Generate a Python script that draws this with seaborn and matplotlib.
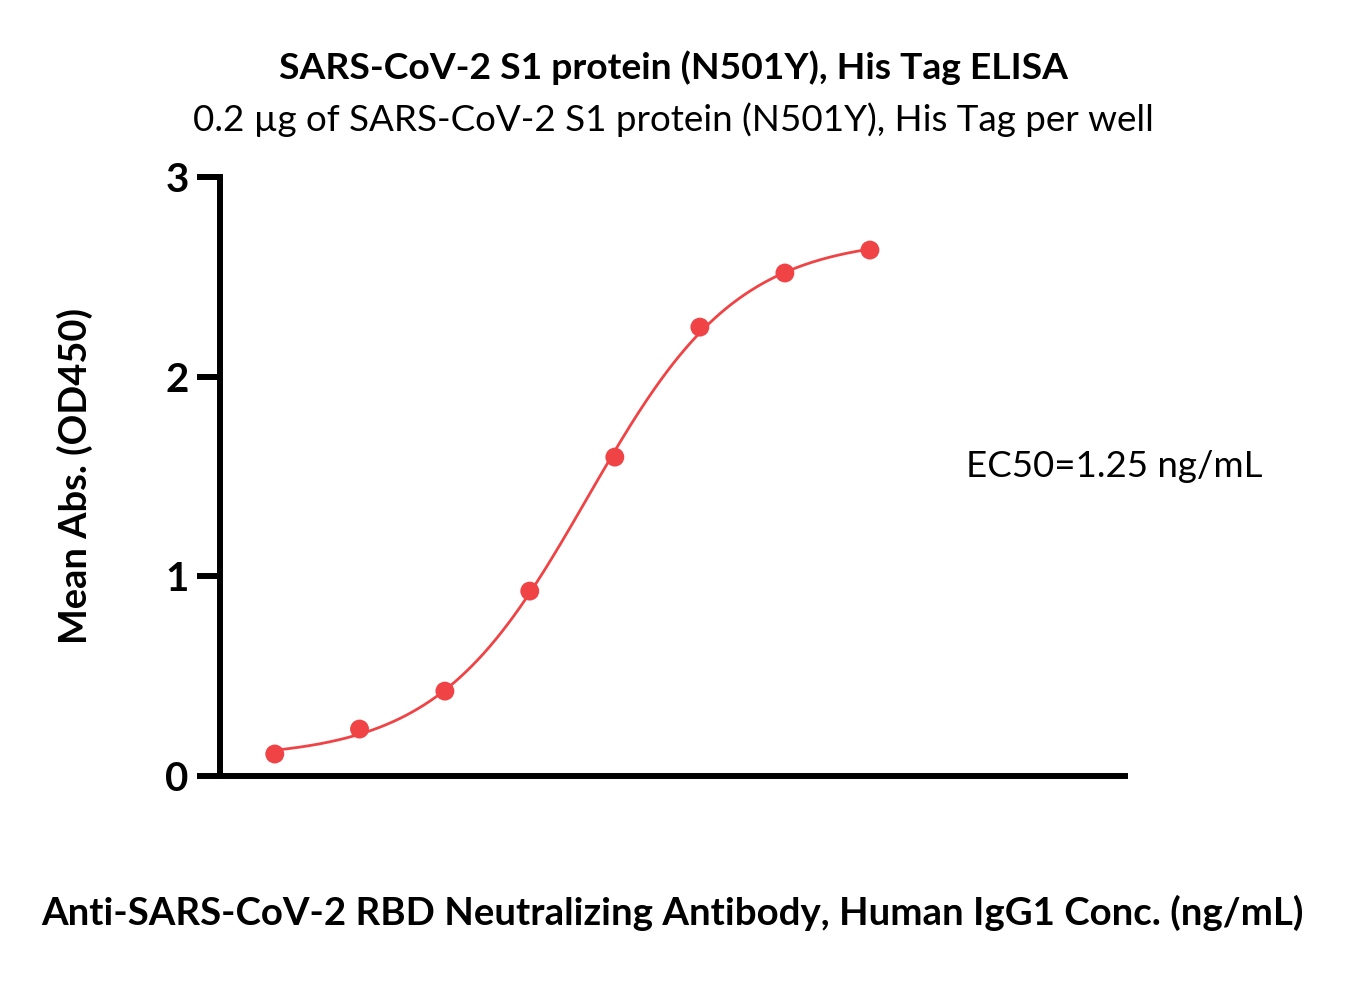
import numpy as np
import pandas as pd
import matplotlib
matplotlib.use("Agg")
import matplotlib.pyplot as plt
import seaborn as sns

# ELISA readings
conc = [0.0977, 0.195, 0.391, 0.781, 1.5625, 3.125, 6.25, 12.5]
od450 = [0.11, 0.235, 0.425, 0.926, 1.597, 2.248, 2.519, 2.634]
ec50 = 1.25
yticks = [0, 1, 2, 3]

title = "SARS-CoV-2 S1 protein (N501Y), His Tag ELISA"
subtitle = "0.2 µg of SARS-CoV-2 S1 protein (N501Y), His Tag per well"
xlabel = "Anti-SARS-CoV-2 RBD Neutralizing Antibody, Human IgG1 Conc. (ng/mL)"
ylabel = "Mean Abs. (OD450)"
ec50_text = "EC50=1.25 ng/mL"

red = "#F04345"

# 4PL fit with EC50 fixed: search the hill slope, bottom/top by least squares
x = np.array(conc)
y = np.array(od450)
best = None
for h in np.linspace(0.5, 3.0, 251):
    f = 1 / (1 + (ec50 / x) ** h)
    A = np.column_stack([1 - f, f])
    coef, res, _, _ = np.linalg.lstsq(A, y, rcond=None)
    err = np.sum((A @ coef - y) ** 2)
    if best is None or err < best[0]:
        best = (err, h, coef)
_, hill, (bottom, top) = best
xs = np.logspace(np.log10(conc[0]), np.log10(conc[-1]), 300)
fit = pd.DataFrame({"conc": xs, "od": bottom + (top - bottom) / (1 + (ec50 / xs) ** hill)})
pts = pd.DataFrame({"conc": conc, "od": od450})

sns.set_style("ticks")
plt.rcParams["font.family"] = ["Lato", "DejaVu Sans"]
plt.rcParams["text.color"] = "black"

fig = plt.figure(figsize=(13.47, 9.81), dpi=100)
ax = fig.add_axes([0.1633, 0.209, 0.8352 - 0.1633, 0.8196 - 0.209])

sns.lineplot(data=fit, x="conc", y="od", color=red, lw=2.0, ax=ax)
sns.scatterplot(data=pts, x="conc", y="od", color=red, s=185, edgecolor="none", ax=ax, zorder=3, clip_on=False)

ax.set_xscale("log")
ax.set_xlim(0.0625, 100)
ax.set_ylim(0, 3)
ax.set_yticks(yticks)
ax.set_yticklabels([str(t) for t in yticks], fontsize=29, fontweight="bold")
ax.set_xticks([])
ax.xaxis.set_minor_locator(matplotlib.ticker.NullLocator())
ax.set_xlabel("")
ax.set_ylabel("")
sns.despine(ax=ax)
for s in ["left", "bottom"]:
    ax.spines[s].set_linewidth(4.3)
    ax.spines[s].set_color("black")
ax.tick_params(axis="y", length=16.5, width=4.3, pad=6, colors="black")

fig.text(0.5, 0.9307, title, ha="center", va="center", fontsize=26.8, fontweight="bold")
fig.text(0.5, 0.8777, subtitle, ha="center", va="center", fontsize=26.5)
fig.text(0.4993, 0.0693, xlabel, ha="center", va="center", fontsize=27.6, fontweight="bold")
fig.text(0.0557, 0.5148, ylabel, ha="center", va="center", fontsize=27.4, fontweight="bold", rotation=90)
fig.text(0.717, 0.524, ec50_text, ha="left", va="center", fontsize=26.4)

fig.savefig("out.png", dpi=100, facecolor="white")
